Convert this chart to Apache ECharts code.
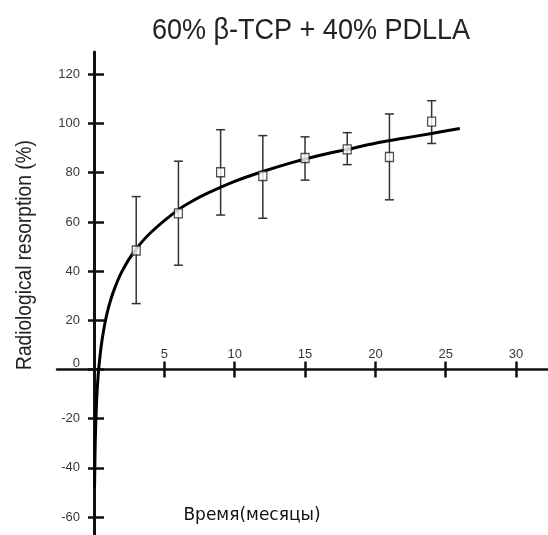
<!DOCTYPE html>
<html>
<head>
<meta charset="utf-8">
<script src="https://cdn.jsdelivr.net/npm/echarts@6/dist/echarts.min.js"></script>
<style>
  html, body { margin: 0; padding: 0; background: #fff; }
  #chart { width: 548px; height: 535px; }
</style>
</head>
<body>
<div id="chart"></div>
<script>
// measured points (months, mean %, error bar low / high)
const months = [3, 6, 9, 12, 15, 18, 21, 24];
const resorption = [48.4, 63.5, 80.2, 78.7, 86.0, 89.5, 86.4, 100.8];
const errLow = [26.8, 42.4, 62.8, 61.5, 77.0, 83.3, 69.0, 91.9];
const errHigh = [70.3, 84.7, 97.5, 95.1, 94.6, 96.3, 103.9, 109.3];

// fitted curve
const fitX = [0.04, 0.07, 0.1, 0.15, 0.2, 0.3, 0.4, 0.5, 0.6, 0.8, 1, 1.25, 1.5, 1.75, 2, 2.5, 3, 3.5, 4, 5, 6, 7, 8, 10, 12, 14, 16, 18, 20, 22, 24, 26];
const fitY = [-48, -35, -27, -18, -11, -2, 4, 9, 13, 19.5, 24.5, 29.5, 33.5, 37, 40, 45, 49, 52.5, 55.5, 60.5, 65, 68.5, 71.5, 76.5, 80.5, 84, 87, 89.5, 92, 94, 96, 98];

// tick labels
const xTicks = [5, 10, 15, 20, 25, 30];
const yTicks = [-60, -40, -20, 0, 20, 40, 60, 80, 100, 120];

const X_MIN = -2.63, X_MAX = 32.27;
const Y_MIN = -67.3, Y_MAX = 129.1;

// plot box
const W = 548, H = 535;
const LEFT = 57, TOP = 52;
// where the zero lines fall (labels in v6 stay on the grid edge, so extra grids sit on them)
const zeroX = LEFT + (0 - X_MIN) / (X_MAX - X_MIN) * (W - LEFT);
const zeroY = TOP + (Y_MAX - 0) / (Y_MAX - Y_MIN) * (H - TOP);

const chart = echarts.init(document.getElementById("chart"));

const tickStyle = { color: "#111", width: 2.5 };
const labelFont = { color: "#383838", fontSize: 13, fontFamily: "Liberation Sans" };

const option = {
  backgroundColor: "#fff",
  animation: false,
  grid: [
    { left: LEFT, right: 0, top: TOP, bottom: 0, outerBoundsMode: "none" },
    // x labels, bottom edge on y = 0
    { left: LEFT, right: 0, top: TOP, bottom: H - zeroY, outerBoundsMode: "none" },
    // y labels, left edge on x = 0
    { left: zeroX, right: 0, top: TOP, bottom: 0, outerBoundsMode: "none" },
  ],
  graphic: [
    {
      type: "text",
      x: 311,
      y: 31,
      scaleX: 0.9,
      style: {
        text: "60% β-TCP + 40% PDLLA",
        font: '30px "Liberation Sans", sans-serif',
        fill: "#222",
        textAlign: "center",
        textVerticalAlign: "middle",
      },
    },
    {
      type: "text",
      x: 25,
      y: 255,
      rotation: Math.PI / 2,
      scaleX: 0.87,
      style: {
        text: "Radiological resorption (%)",
        font: '22px "Liberation Sans", sans-serif',
        fill: "#222",
        textAlign: "center",
        textVerticalAlign: "middle",
      },
    },
    {
      type: "text",
      x: 252,
      y: 516,
      style: {
        text: "Время(месяцы)",
        font: '17px "DejaVu Sans", sans-serif',
        fill: "#111",
        textAlign: "center",
        textVerticalAlign: "middle",
      },
    },
  ],
  xAxis: [
    {
      gridIndex: 0,
      type: "value",
      min: X_MIN,
      max: X_MAX,
      position: "bottom",
      axisLine: { onZero: true, lineStyle: { color: "#111", width: 2.5 } },
      axisTick: { customValues: xTicks, length: 8, lineStyle: tickStyle },
      axisLabel: { show: false },
      splitLine: { show: false },
    },
    {
      gridIndex: 1,
      type: "value",
      min: X_MIN,
      max: X_MAX,
      position: "bottom",
      axisLine: { show: false, onZero: false },
      axisTick: { customValues: xTicks, inside: true, length: 8, lineStyle: tickStyle },
      axisLabel: Object.assign({ customValues: xTicks, inside: true, margin: 9 }, labelFont),
      splitLine: { show: false },
    },
    {
      gridIndex: 2,
      type: "value",
      show: false,
      min: 0,
      max: 1,
    },
  ],
  yAxis: [
    {
      gridIndex: 0,
      type: "value",
      min: Y_MIN,
      max: Y_MAX,
      position: "left",
      axisLine: { onZero: true, lineStyle: { color: "#111", width: 3 } },
      axisTick: { customValues: yTicks, length: 6, lineStyle: tickStyle },
      axisLabel: { show: false },
      splitLine: { show: false },
    },
    {
      gridIndex: 1,
      type: "value",
      show: false,
      min: 0,
      max: 1,
    },
    {
      gridIndex: 2,
      type: "value",
      min: Y_MIN,
      max: Y_MAX,
      position: "left",
      axisLine: { show: false, onZero: false },
      axisTick: { customValues: yTicks, inside: true, length: 10, lineStyle: tickStyle },
      axisLabel: Object.assign(
        {
          customValues: yTicks,
          margin: 14,
          formatter: function (v) {
            return v === 0 ? "{z|0}" : String(v);
          },
          rich: { z: Object.assign({ padding: [0, 0, 12, 0] }, labelFont) },
        },
        labelFont
      ),
      splitLine: { show: false },
    },
  ],
  series: [
    {
      // error bars
      type: "custom",
      xAxisIndex: 0,
      yAxisIndex: 0,
      data: months.map((m, i) => [m, errLow[i], errHigh[i]]),
      renderItem: function (params, api) {
        const top = api.coord([api.value(0), api.value(2)]);
        const bot = api.coord([api.value(0), api.value(1)]);
        const w = 4.5;
        const st = { stroke: "#333", lineWidth: 1.5 };
        return {
          type: "group",
          children: [
            { type: "line", shape: { x1: top[0], y1: top[1], x2: bot[0], y2: bot[1] }, style: st },
            { type: "line", shape: { x1: top[0] - w, y1: top[1], x2: top[0] + w, y2: top[1] }, style: st },
            { type: "line", shape: { x1: bot[0] - w, y1: bot[1], x2: bot[0] + w, y2: bot[1] }, style: st },
          ],
        };
      },
      z: 2,
    },
    {
      // fitted curve
      type: "line",
      xAxisIndex: 0,
      yAxisIndex: 0,
      data: fitX.map((x, i) => [x, fitY[i]]),
      smooth: 0.3,
      showSymbol: false,
      lineStyle: { color: "#000", width: 3 },
      z: 3,
    },
    {
      // measured means
      type: "scatter",
      xAxisIndex: 0,
      yAxisIndex: 0,
      data: months.map((m, i) => [m, resorption[i]]),
      symbol: "rect",
      symbolSize: [8, 9],
      itemStyle: { color: "#fff", borderColor: "#222", borderWidth: 1.3 },
      z: 4,
    },
  ],
};

option && chart.setOption(option);
</script>
</body>
</html>
